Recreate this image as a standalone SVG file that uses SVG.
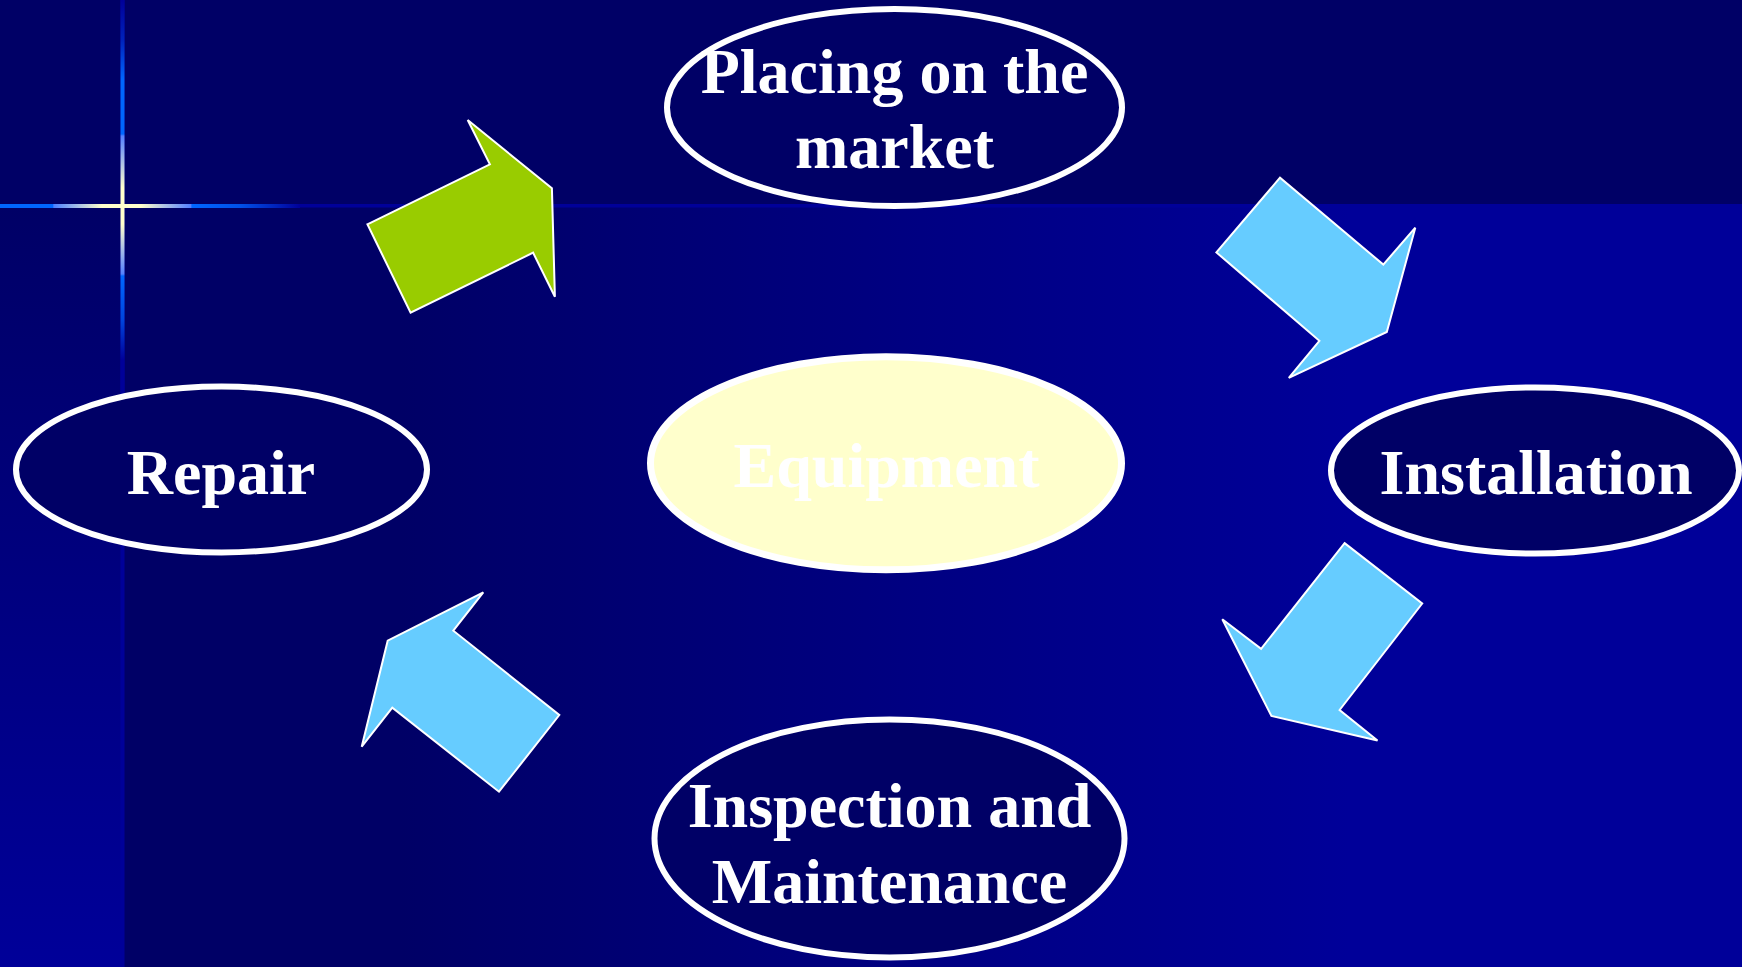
<svg xmlns="http://www.w3.org/2000/svg" width="1742" height="967" viewBox="0 0 1742 967">
<defs>
<linearGradient id="mainBg" gradientUnits="userSpaceOnUse" x1="400" y1="0" x2="1350" y2="0">
<stop offset="0" stop-color="#000066"/><stop offset="1" stop-color="#000099"/>
</linearGradient>
<linearGradient id="leftBg" gradientUnits="userSpaceOnUse" x1="0" y1="207" x2="0" y2="967">
<stop offset="0" stop-color="#000066"/><stop offset="1" stop-color="#000099"/>
</linearGradient>
<linearGradient id="hLine" gradientUnits="userSpaceOnUse" x1="0" y1="0" x2="300" y2="0">
<stop offset="0" stop-color="#0066ff"/>
<stop offset="0.175" stop-color="#0066ff"/>
<stop offset="0.18" stop-color="#4d80ff"/>
<stop offset="0.34" stop-color="#ffffcc"/>
<stop offset="0.47" stop-color="#ffffcc"/>
<stop offset="0.635" stop-color="#5580ff"/>
<stop offset="0.64" stop-color="#0066ff"/>
<stop offset="0.8" stop-color="#0050e8"/>
<stop offset="0.92" stop-color="#0022bb"/>
<stop offset="1" stop-color="#000099"/>
</linearGradient>
<linearGradient id="vLine" gradientUnits="userSpaceOnUse" x1="0" y1="0" x2="0" y2="400">
<stop offset="0" stop-color="#000099"/>
<stop offset="0.1" stop-color="#0022bb"/>
<stop offset="0.2" stop-color="#0066ff"/>
<stop offset="0.335" stop-color="#0066ff"/>
<stop offset="0.34" stop-color="#5580ff"/>
<stop offset="0.47" stop-color="#ffffcc"/>
<stop offset="0.56" stop-color="#ffffcc"/>
<stop offset="0.685" stop-color="#5580ff"/>
<stop offset="0.69" stop-color="#0066ff"/>
<stop offset="0.8" stop-color="#0044dd"/>
<stop offset="0.9" stop-color="#000099"/>
<stop offset="1" stop-color="#000099"/>
</linearGradient>
</defs>
<style>
.node{fill:#000066;stroke:#ffffff;stroke-width:6}
.center{fill:#ffffcc;stroke:#ffffff;stroke-width:7}
.lbl{font-family:"Liberation Serif","Times New Roman",serif;font-weight:bold;font-size:64px;fill:#ffffff;text-anchor:middle}
.blue{fill:#66ccff;stroke:#ffffff;stroke-width:2;stroke-linejoin:miter}
.green{fill:#99cc00;stroke:#ffffff;stroke-width:2;stroke-linejoin:miter}
</style>
<g id="background">
<rect x="0" y="0" width="1742" height="967" fill="url(#mainBg)"/>
<rect x="0" y="0" width="1742" height="206" fill="#000066"/>
<rect x="0" y="206" width="122" height="761" fill="url(#leftBg)"/>
<rect x="0" y="204" width="1742" height="3.5" fill="#000099"/>
<rect x="120.5" y="0" width="4" height="967" fill="#000099"/>
<rect x="0" y="204" width="300" height="4" fill="url(#hLine)"/>
<rect x="120.5" y="0" width="4" height="400" fill="url(#vLine)"/>
</g>
<g id="connectors">
<polygon class="green" points="367.4,224.3 489.9,164.3 467.7,120 551.9,188.3 554.9,296.7 533.1,252.7 410.6,312.7"/>
<polygon class="blue" points="1216.4,252.4 1280,177.7 1383.3,264.6 1415.3,227.7 1386.8,332 1288.8,377.8 1319.4,340.8"/>
<polygon class="blue" points="1344.6,543.1 1422.2,603.5 1339.6,710 1377.5,740.5 1271.4,716 1222.3,619.3 1261.1,648.8"/>
<polygon class="blue" points="483.3,592.3 453.3,630.7 559.3,715 499,791.7 392.3,707.7 361.7,746.7 387.7,640.7"/>
</g>
<g id="node-placing">
<ellipse class="node" cx="894.5" cy="107.5" rx="227.5" ry="98.5"/>
<text class="lbl" x="894.5" y="93">Placing on the</text>
<text class="lbl" x="894.5" y="168">market</text>
</g>
<g id="node-equipment">
<ellipse class="center" cx="886" cy="463.3" rx="235.5" ry="106.5"/>
<text class="lbl" x="886.5" y="487">Equipment</text>
</g>
<g id="node-repair">
<ellipse class="node" cx="221.5" cy="469.5" rx="205.5" ry="83"/>
<text class="lbl" x="221" y="494">Repair</text>
</g>
<g id="node-installation">
<ellipse class="node" cx="1535" cy="470.5" rx="204" ry="83"/>
<text class="lbl" x="1536" y="494">Installation</text>
</g>
<g id="node-inspection">
<ellipse class="node" cx="889.5" cy="838.5" rx="235" ry="119"/>
<text class="lbl" x="889.5" y="827">Inspection and</text>
<text class="lbl" x="889.5" y="903">Maintenance</text>
</g>
</svg>
